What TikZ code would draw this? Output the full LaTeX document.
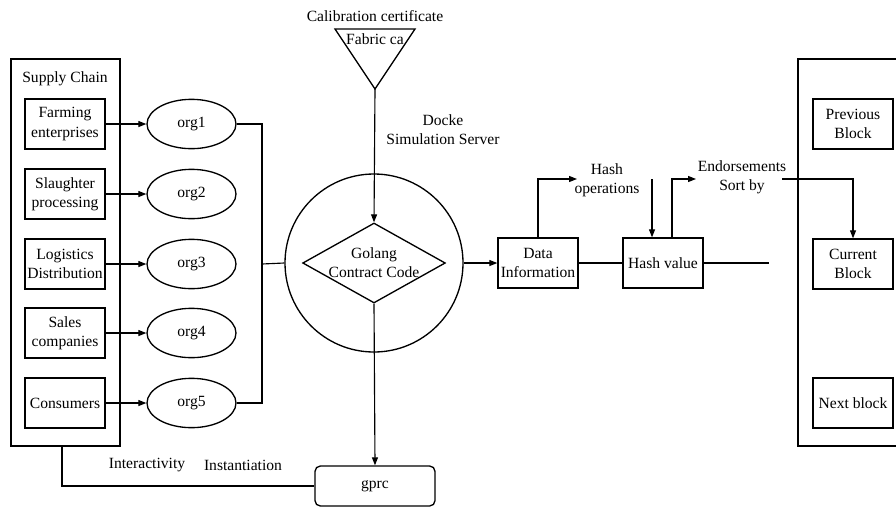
\documentclass[tikz,border=0pt]{standalone}
\usepackage{fontspec}
\setmainfont{Liberation Serif}
\usetikzlibrary{shapes.geometric,arrows.meta}

\begin{document}
\begin{tikzpicture}[x=0.75pt,y=-0.75pt,
	>={Triangle[length=6pt,width=4.5pt]},
	every node/.style={font=\fontsize{11.7}{14.3}\selectfont},
	box/.style={draw,line width=1pt,minimum width=60pt,minimum height=37.5pt,inner sep=1pt,align=center},
	org/.style={draw,ellipse,line width=1pt,minimum width=66.75pt,minimum height=37pt},
	wire/.style={line width=0.85pt}]
	\useasboundingbox (0,0) rectangle (896,507);
	% the supply chain frame
	\node[draw,line width=1pt,minimum width=81.75pt,minimum height=290.25pt,inner sep=0pt] (chain) at (65.5,252.5) {};
	\node (chaintitle) at (65,79) {Supply Chain};
	\node[box] (farm) at (65,124) {Farming\\enterprises};
	\node[box] (slaughter) at (65,194) {Slaughter\\processing};
	\node[box] (logistics) at (65,264) {Logistics\\Distribution};
	\node[box] (sales) at (65,333) {Sales\\companies};
	\node[box] (consumers) at (65,403) {Consumers};
	% the orgs
	\node[org] (org1) at (191.5,124) {org1};
	\node[org] (org2) at (191.5,194) {org2};
	\node[org] (org3) at (191.5,264) {org3};
	\node[org] (org4) at (191.5,333) {org4};
	\node[org] (org5) at (191.5,403) {org5};
	\draw[->,wire] (farm) -- (org1);
	\draw[->,wire] (slaughter) -- (org2);
	\draw[->,wire] (logistics) -- (org3);
	\draw[->,wire] (sales) -- (org4);
	\draw[->,wire] (consumers) -- (org5);
	% bus into the server
	\coordinate (bus) at (262,264);
	\draw[wire] (org1.east) -- (262,124) |- (org5.east);
	% simulation server with contract code
	\node[draw,circle,line width=1pt,minimum size=133.5pt,inner sep=0pt] (server) at (374,263) {};
	\node[draw,diamond,line width=1pt,minimum width=107pt,minimum height=60pt,inner sep=0pt] (code) at (374,263) {};
	\node[align=center] (codetext) at (code) {Golang\\Contract Code};
	\draw[wire] (bus) -- (server.west);
	\node[align=center] (docke) at (443,130) {Docke\\Simulation Server};
	% fabric ca
	\draw[line width=1pt] (335,29) -- (415,29) -- (375,89) -- cycle;
	\coordinate (ca) at (375,89);
	\node (calib) at (375,16) {Calibration certificate};
	\node (fabric) at (375,39) {Fabric ca};
	\draw[->,wire] (ca) -- (code.north);
	% gprc
	\node[draw,line width=1pt,rounded corners=4pt,minimum width=90pt,minimum height=30pt] (gprc) at (375,486) {gprc};
	\draw[->,wire] (code.south) -- (gprc.north);
	\draw[wire] ([xshift=-2.6pt]chain.south) |- (gprc.west);
	\node (interact) at (147,465) {Interactivity};
	\node (inst) at (243,465) {Instantiation};
	% hashing
	\node[box] (data) at (538,263) {Data\\Information};
	\node[box] (hash) at (663,263) {Hash value};
	\draw[->,wire] (server.east) -- (data.west);
	\draw[wire] (data) -- (hash);
	\coordinate (tail) at (769,263);
	\draw[wire] (hash.east) -- (tail);
	\coordinate (hopin) at (577,179);
	\coordinate (hopout) at (652,179);
	\draw[->,wire] (data.north) |- (hopin);
	\node[align=center] (hashop) at (607,180) {Hash\\operations};
	\draw[->,wire] (hopout) -- (hopout |- hash.north);
	\coordinate (endin) at (696,179);
	\coordinate (endout) at (782,179);
	\draw[->,wire] ([xshift=6.75pt]hash.north) |- (endin);
	\node[align=center] (endorse) at (742,177) {Endorsements\\Sort by};
	% the block chain frame
	\draw[line width=1pt] (897,59) -- (798,59) -- (798,446) -- (897,446);
	\node[box] (prev) at (853,124) {Previous\\Block};
	\node[box] (current) at (853,264) {Current\\Block};
	\node[box] (next) at (853,403) {Next block};
	\draw[->,wire] (endout) -| (current.north);
\end{tikzpicture}
\end{document}
